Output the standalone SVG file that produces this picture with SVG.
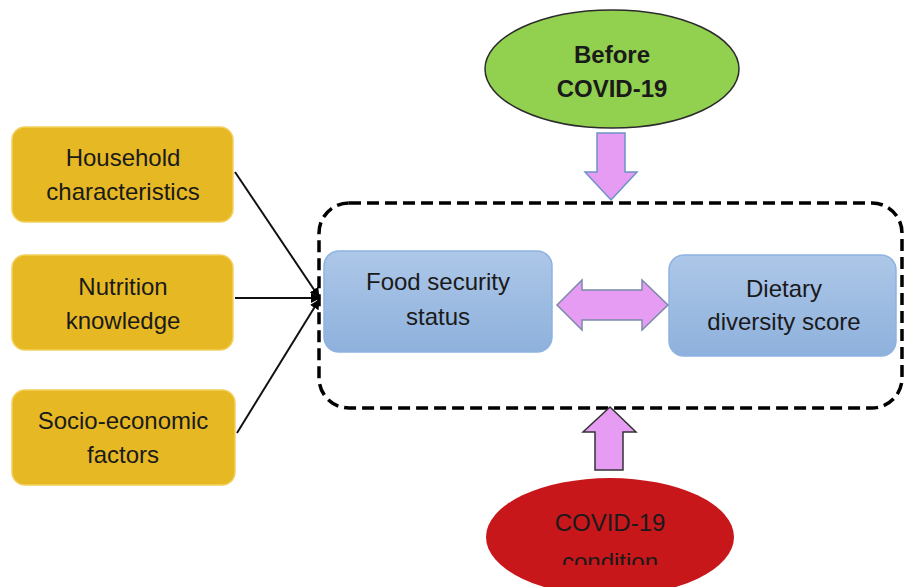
<svg xmlns="http://www.w3.org/2000/svg" width="904" height="587" viewBox="0 0 904 587">
<style>
.t{font-family:"Liberation Sans",Arial,sans-serif;font-size:24px;fill:#1a1a1a;text-anchor:middle}
.b{font-weight:bold}
.y{fill:#e6b824;stroke:#f2cf5a;stroke-width:1.5}
.bl{fill:url(#gb);stroke:#8db3e2;stroke-width:1.5}
.ar{fill:#e59cf2;stroke-width:1.5}
.cn{stroke:#111;stroke-width:2;fill:none;marker-end:url(#ah)}
</style>
<defs>
<linearGradient id="gb" x1="0" y1="0" x2="0" y2="1">
<stop offset="0" stop-color="#adc7e8"/>
<stop offset="1" stop-color="#8eb1dc"/>
</linearGradient>
<marker id="ah" viewBox="0 0 10 10" refX="9" refY="5" markerWidth="5" markerHeight="5" orient="auto" markerUnits="strokeWidth">
<path d="M0,0 L10,5 L0,10 Z" fill="#000"/>
</marker>
<clipPath id="clipc"><rect x="0" y="0" width="904" height="565"/></clipPath>
</defs>

<g id="container">
<rect x="319" y="203" width="583" height="205" rx="30" fill="none" stroke="#000" stroke-width="3.5" stroke-dasharray="12 6"/>
</g>

<g id="before">
<ellipse cx="612" cy="69" rx="127" ry="59" fill="#92d050" stroke="#2b2b2b" stroke-width="1.5"/>
<text class="t b" x="612" y="63">Before</text>
<text class="t b" x="612" y="97">COVID-19</text>
</g>

<g id="covid">
<ellipse cx="610" cy="537" rx="124" ry="59" fill="#c8171b"/>
<text class="t" x="610" y="531" fill="#111">COVID-19</text>
<text class="t" x="610" y="570" clip-path="url(#clipc)">condition</text>
</g>

<g id="household">
<rect class="y" x="12" y="127" width="221" height="95" rx="13"/>
<text class="t" x="123" y="166">Household</text>
<text class="t" x="123" y="200">characteristics</text>
</g>

<g id="nutrition">
<rect class="y" x="12" y="255" width="221" height="95" rx="13"/>
<text class="t" x="123" y="295">Nutrition</text>
<text class="t" x="123" y="329">knowledge</text>
</g>

<g id="socio">
<rect class="y" x="12" y="390" width="223" height="95" rx="13"/>
<text class="t" x="123" y="429">Socio-economic</text>
<text class="t" x="123" y="463">factors</text>
</g>

<g id="food">
<rect class="bl" x="324" y="251" width="228" height="101" rx="15"/>
<text class="t" x="438" y="290">Food security</text>
<text class="t" x="438" y="325">status</text>
</g>

<g id="dietary">
<rect class="bl" x="669" y="255" width="227" height="101" rx="15"/>
<text class="t" x="784" y="297">Dietary</text>
<text class="t" x="784" y="330">diversity score</text>
</g>

<g id="connectors">
<line class="cn" x1="235" y1="172" x2="319" y2="297"/>
<line class="cn" x1="235" y1="298" x2="320" y2="298"/>
<line class="cn" x1="237" y1="433" x2="319" y2="300"/>
<path class="ar" stroke="#6f92c8" d="M597,133 L625,133 L625,172 L637,172 L611,200 L585,172 L597,172 Z"/>
<path class="ar" stroke="#333" d="M595,470 L623,470 L623,432 L636,432 L610,407 L583,432 L595,432 Z"/>
<path class="ar" stroke="#7a8aa8" d="M557,305 L582,280 L582,290 L642,290 L642,280 L668,305 L642,330 L642,320 L582,320 L582,330 Z"/>
</g>
</svg>
